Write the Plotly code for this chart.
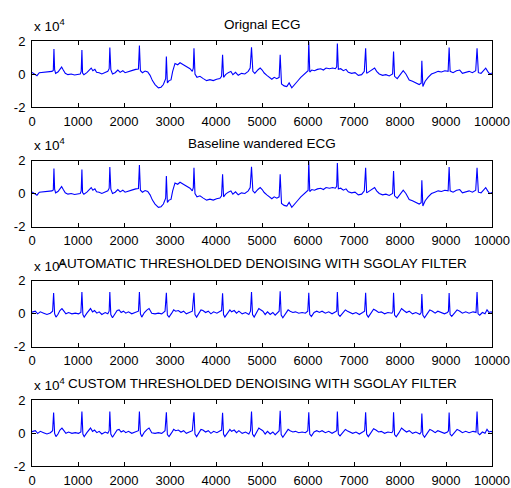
import plotly.graph_objects as go

# Raw ECG (sample index, amplitude) -- also used for the baseline-wandered trace
ecg_x = [0, 58, 108, 159, 253, 361, 434, 463, 477, 492, 513, 564, 615, 644, 680, 723, 781, 853, 925, 998,
         1048, 1070, 1085, 1099, 1128, 1193, 1251, 1287, 1323, 1367, 1403, 1460, 1518, 1591, 1649, 1678,
         1692, 1714, 1750, 1808, 1866, 1916, 1974, 2024, 2097, 2184, 2256, 2314, 2335, 2357, 2401, 2458,
         2516, 2567, 2618, 2675, 2748, 2805, 2856, 2892, 2906, 2921, 2943, 2979, 3022, 3058, 3109, 3167,
         3218, 3290, 3362, 3435, 3485, 3507, 3521, 3543, 3586, 3651, 3724, 3796, 3868, 3941, 4013, 4085,
         4121, 4143, 4165, 4208, 4266, 4324, 4367, 4425, 4483, 4555, 4627, 4700, 4743, 4772, 4801, 4844,
         4916, 4961, 5004, 5048, 5106, 5163, 5214, 5265, 5323, 5373, 5395, 5424, 5482, 5539, 5590, 5648,
         5706, 5771, 5843, 5915, 5973, 6002, 6017, 6038, 6082, 6140, 6205, 6277, 6335, 6393, 6465, 6537,
         6595, 6624, 6638, 6660, 6711, 6769, 6826, 6877, 6949, 7022, 7094, 7166, 7224, 7253, 7275, 7332,
         7390, 7448, 7492, 7549, 7622, 7694, 7766, 7839, 7860, 7882, 7940, 7998, 8070, 8128, 8200, 8272,
         8345, 8417, 8460, 8475, 8497, 8547, 8612, 8684, 8757, 8829, 8901, 8974, 9046, 9068, 9090, 9154,
         9227, 9299, 9357, 9429, 9502, 9574, 9646, 9675, 9704, 9762, 9819, 9863, 9906, 9950, 10000]
ecg_y = [1000, 0, -1000, 800, 1200, 1200, 1600, 2200, 15200, 2600, 400, 1200, 3200, 4200, 2400, 400, -400,
         0, -600, 0, 0, 1600, 14600, 600, -400, 800, 2600, 3600, 2000, 2800, 1000, 800, 0, 1000, 1600,
         3200, 16000, 2600, 0, 800, 2400, 1000, 2000, 800, 1600, 2200, 2800, 3000, 17200, 2000, 800, 1800,
         1200, -800, -4000, -6400, -8400, -8000, -6400, -4400, -2800, 10600, -5400, -4000, -3600, 1600,
         6400, 5600, 6800, 5600, 4400, 3200, 1600, 3600, 15600, 0, -2000, -1400, -2800, -4000, -3400,
         -4000, -3200, -2800, -1400, 11600, -2000, -400, 800, 1600, -400, 1000, -800, 400, 0, 1600, 3600,
         16200, 1600, 400, 2600, 3600, 2400, 600, -800, -2400, -3200, -2000, -2800, -2000, 11600, -6000,
         -7200, -7600, -5400, -8400, -6800, -4400, -2000, 0, 1200, 2000, 19600, 1200, 2400, 2000, 2800,
         3200, 2400, 3600, 3200, 3600, 3200, 4400, 18400, 2800, 3200, 2000, 2800, 1000, 400, 800, -800,
         -400, 1600, 15600, 400, 1600, 2800, 3600, 1600, 0, -800, -400, -1200, 0, 13600, -1400, -2800,
         -800, 2000, 0, -3600, -4400, -5600, -6400, -5600, 8000, -7600, -4400, -2000, 0, 800, 1600, 1200,
         2000, 1600, 16000, 1600, 800, 2000, 2400, 400, 800, 1600, 800, 2000, 15600, 800, 400, 2000, 3600,
         1600, 0, 600]

# Denoised ECG (wavelet thresholding + Savitzky-Golay smoothing)
den_x = [0, 72, 123, 181, 253, 325, 398, 448, 470, 492, 521, 564, 607, 651, 694, 737, 795, 868, 940, 1012,
         1063, 1085, 1106, 1135, 1193, 1244, 1272, 1316, 1359, 1410, 1460, 1518, 1591, 1648, 1677, 1692,
         1713, 1750, 1808, 1851, 1894, 1938, 1988, 2039, 2097, 2169, 2241, 2314, 2335, 2357, 2386, 2444,
         2502, 2545, 2603, 2675, 2747, 2820, 2892, 2921, 2943, 2979, 3037, 3080, 3123, 3181, 3239, 3296,
         3355, 3413, 3485, 3521, 3543, 3579, 3629, 3673, 3716, 3774, 3832, 3890, 3948, 4020, 4092, 4121,
         4143, 4164, 4193, 4251, 4302, 4338, 4396, 4446, 4497, 4569, 4642, 4714, 4750, 4772, 4794, 4830,
         4887, 4931, 4961, 5019, 5069, 5120, 5178, 5236, 5286, 5337, 5373, 5395, 5417, 5453, 5510, 5568,
         5612, 5670, 5727, 5800, 5872, 5944, 5995, 6017, 6038, 6074, 6132, 6190, 6248, 6306, 6378, 6450,
         6523, 6595, 6624, 6638, 6660, 6696, 6754, 6812, 6855, 6913, 6971, 7043, 7116, 7188, 7231, 7253,
         7275, 7311, 7369, 7426, 7477, 7535, 7593, 7665, 7737, 7824, 7846, 7860, 7882, 7918, 7976, 8034,
         8084, 8142, 8200, 8272, 8345, 8431, 8460, 8475, 8496, 8533, 8590, 8648, 8706, 8764, 8822, 8894,
         8966, 9031, 9053, 9068, 9089, 9125, 9183, 9241, 9299, 9357, 9429, 9501, 9588, 9653, 9675, 9697,
         9733, 9791, 9848, 9892, 9935, 9979, 10000]
den_y = [800, 1400, -200, 1000, 200, -600, 200, 1400, 12400, -200, -2200, -600, 1800, 3000, 1400, -200, 600,
         -200, 200, -200, 600, 13000, -600, -2200, 200, 2200, 3000, 1000, 1800, 200, 1000, -600, 600, -200,
         1400, 13000, -600, -2600, -200, 1800, 2200, 600, 1400, 200, 1000, -200, 600, 1400, 13000, -200,
         -2200, 600, 2200, 3000, 200, -200, 200, -200, 1400, 12600, -1000, -2200, 200, 2200, 1400, 1800,
         600, 1400, -200, 600, 1400, 12600, -600, -2200, 200, 2200, 1800, 600, 1400, -200, 1000, 200, 1400,
         1800, 12200, -600, -2200, 200, 2200, 1000, 1800, 200, 1400, -200, 600, -600, 1400, 13000, -600,
         -2200, 600, 3000, 2400, 1400, -600, 1000, -600, 600, -1000, 200, 1400, 13400, -1000, -2600, 200,
         2200, 1400, 600, 1000, 200, 600, 200, 1400, 12600, -600, -1800, 600, 1400, 600, 1400, 200, 1000,
         -200, 600, 1400, 13000, -600, -1800, 600, 2200, 1400, 600, -200, 600, -600, 600, 1400, 12600, -600,
         -2200, 200, 2600, 1800, 600, 1000, -200, 600, 200, 1400, 12600, -1000, -2200, 200, 3000, 1800, 600,
         1400, -200, 600, -600, 600, 11800, -1000, -2600, -200, 2200, 1400, 200, 1400, 600, -200, 600, 1400,
         12400, -600, -1800, 600, 2200, 1400, 200, 1000, 200, 1000, 600, 13000, -200, -1000, 600, -200, 2200,
         600, 1000, 600]

titles = ["Orignal ECG", "Baseline wandered ECG",
          "AUTOMATIC THRESHOLDED DENOISING WITH SGOLAY FILTER",
          "CUSTOM THRESHOLDED DENOISING WITH SGOLAY FILTER"]
traces = [(ecg_x, ecg_y), (ecg_x, ecg_y), (den_x, den_y), (den_x, den_y)]

x_ticks = list(range(0, 10001, 1000))
x_tick_text = [str(v) for v in x_ticks]
y_ticks = [-20000, 0, 20000]
y_tick_text = ["-2", "0", "2"]

W, H = 511, 488
x_left, x_right = 32, 492
# pixel top/bottom of each axes box
boxes = [(41, 107), (160.5, 226.5), (280.5, 346.5), (400, 466)]

FONT = "Liberation Sans, Arial, sans-serif"
fig = go.Figure()
annotations = []
for i, ((xs, ys), title, (top, bot)) in enumerate(zip(traces, titles, boxes)):
    n = i + 1
    xa = "x" if n == 1 else f"x{n}"
    ya = "y" if n == 1 else f"y{n}"
    fig.add_trace(go.Scatter(x=xs, y=ys, mode="lines", xaxis=xa, yaxis=ya,
                             line=dict(color="#0000ff", width=1.1), showlegend=False,
                             hoverinfo="skip"))
    axis_common = dict(showline=True, linecolor="black", linewidth=1, mirror="ticks",
                       ticks="inside", ticklen=4, tickcolor="black", showgrid=False,
                       zeroline=False, automargin=False,
                       tickfont=dict(family=FONT, size=13, color="black"))
    fig.layout[f"xaxis{'' if n == 1 else n}"] = dict(
        domain=[x_left / W, x_right / W], range=[0, 10000], tickvals=x_ticks,
        ticktext=x_tick_text, anchor=ya, ticklabelstandoff=2, **axis_common)
    fig.layout[f"yaxis{'' if n == 1 else n}"] = dict(
        domain=[1 - bot / H, 1 - top / H], range=[-20000, 20000], tickvals=y_ticks,
        ticktext=y_tick_text, anchor=xa, ticklabelstandoff=3, **axis_common)
    annotations.append(dict(text=title, xref="paper", yref="paper",
                            x=(x_left + x_right) / 2 / W, y=1 - (top - 17) / H,
                            xanchor="center", yanchor="middle", showarrow=False,
                            font=dict(family=FONT, size=13.5, color="black")))
    annotations.append(dict(text="x 10<sup>4</sup>", xref="paper", yref="paper",
                            x=x_left / W, y=1 - (top - 5) / H, xanchor="left",
                            yanchor="bottom", showarrow=False,
                            font=dict(family=FONT, size=13.5, color="black")))

fig.update_layout(width=W, height=H, margin=dict(l=0, r=0, t=0, b=0),
                  paper_bgcolor="white", plot_bgcolor="white", annotations=annotations)
fig.write_html("out.html")
